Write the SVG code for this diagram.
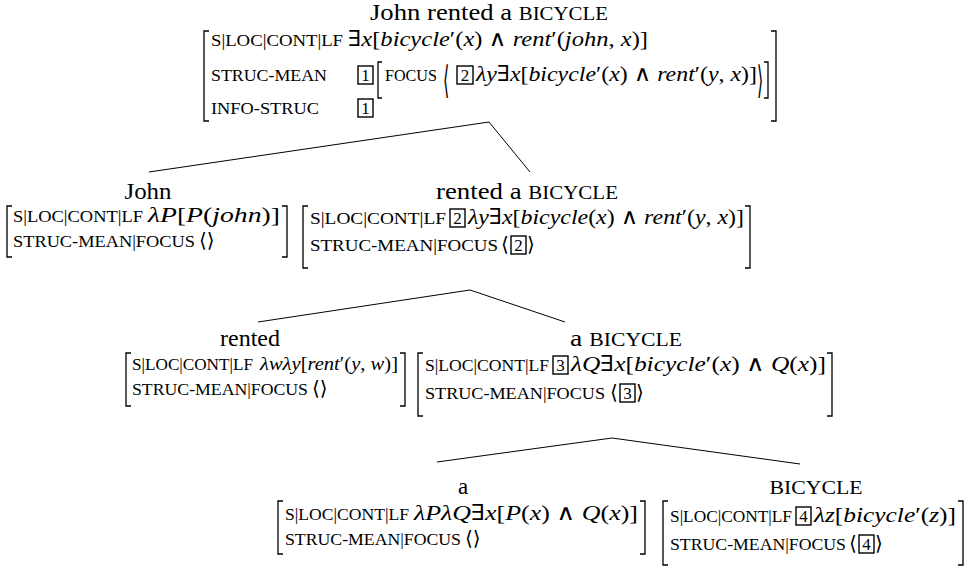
<svg xmlns="http://www.w3.org/2000/svg" width="970" height="568" viewBox="0 0 970 568">
<style>
text{font-family:"Liberation Serif","DejaVu Serif","Times New Roman",serif;fill:#000}
.t{font-size:23px;text-anchor:middle}
.tsc{font-size:18px}
.sc{font-size:16.5px}
.m{font-size:22px}
.i{font-style:italic}
.n{font-size:17px;text-anchor:middle}
.ang{font-family:"DejaVu Sans","Noto Sans",sans-serif;font-size:20px;font-weight:normal}
.br{fill:none;stroke:#000;stroke-width:1.3}
.bx{fill:none;stroke:#000;stroke-width:1.4}
.edge{stroke:#000;stroke-width:1;fill:none}
</style>
<g id="connectors">
<line class="edge" x1="489" y1="122" x2="149" y2="172"/>
<line class="edge" x1="489" y1="122" x2="530" y2="172"/>
<line class="edge" x1="470" y1="290" x2="258" y2="322"/>
<line class="edge" x1="470" y1="290" x2="565" y2="322"/>
<line class="edge" x1="612" y1="438" x2="437" y2="462"/>
<line class="edge" x1="612" y1="438" x2="800" y2="464"/>
</g>
<g id="node-root">
<text class="t" x="489" y="20" textLength="238" lengthAdjust="spacingAndGlyphs">John rented a <tspan class="tsc">BICYCLE</tspan></text>
<path class="br" d="M209,31 H204 V121 H209"/>
<path class="br" d="M771,31 H776 V121 H771"/>
<text class="sc" x="211" y="46" textLength="132" lengthAdjust="spacingAndGlyphs">S|LOC|CONT|LF</text>
<text class="m" x="348" y="46" textLength="300" lengthAdjust="spacingAndGlyphs">∃<tspan class="i">x</tspan>[<tspan class="i">bicycle</tspan>′(<tspan class="i">x</tspan>) ∧ <tspan class="i">rent</tspan>′(<tspan class="i">john</tspan>, <tspan class="i">x</tspan>)]</text>
<text class="sc" x="211" y="81" textLength="116" lengthAdjust="spacingAndGlyphs">STRUC-MEAN</text>
<rect class="bx" x="358" y="66" width="15" height="18"/>
<text class="n" x="365.5" y="81">1</text>
<path class="br" d="M382,62 H378 V98 H382"/>
<text class="sc" x="385" y="81" textLength="52" lengthAdjust="spacingAndGlyphs">FOCUS</text>
<text class="ang" transform="translate(443,93) scale(0.8,1.9)">⟨</text>
<rect class="bx" x="457" y="66" width="16" height="18"/>
<text class="n" x="465" y="81">2</text>
<text class="m" x="476" y="81" textLength="281" lengthAdjust="spacingAndGlyphs"><tspan class="i">λy</tspan>∃<tspan class="i">x</tspan>[<tspan class="i">bicycle</tspan>′(<tspan class="i">x</tspan>) ∧ <tspan class="i">rent</tspan>′(<tspan class="i">y</tspan>, <tspan class="i">x</tspan>)]</text>
<text class="ang" transform="translate(757,93) scale(0.8,1.9)">⟩</text>
<path class="br" d="M764,62 H768 V98 H764"/>
<text class="sc" x="211" y="114" textLength="108" lengthAdjust="spacingAndGlyphs">INFO-STRUC</text>
<rect class="bx" x="358" y="99" width="15" height="18"/>
<text class="n" x="365.5" y="114">1</text>
</g>
<g id="node-john">
<text class="t" x="148" y="199" textLength="47" lengthAdjust="spacingAndGlyphs">John</text>
<path class="br" d="M12,206 H7 V257 H12"/>
<path class="br" d="M282,206 H287 V257 H282"/>
<text class="sc" x="13" y="222" textLength="130" lengthAdjust="spacingAndGlyphs">S|LOC|CONT|LF</text>
<text class="m" x="148" y="222" textLength="132" lengthAdjust="spacingAndGlyphs"><tspan class="i">λP</tspan>[<tspan class="i">P</tspan>(<tspan class="i">john</tspan>)]</text>
<text class="sc" x="13" y="247" textLength="182" lengthAdjust="spacingAndGlyphs">STRUC-MEAN|FOCUS</text>
<text class="ang" x="199" y="247">⟨⟩</text>
</g>
<g id="node-rented-a-bicycle">
<text class="t" x="527" y="199" textLength="182" lengthAdjust="spacingAndGlyphs">rented a <tspan class="tsc">BICYCLE</tspan></text>
<path class="br" d="M308,206 H303 V268 H308"/>
<path class="br" d="M745,206 H750 V268 H745"/>
<text class="sc" x="310" y="224" textLength="136" lengthAdjust="spacingAndGlyphs">S|LOC|CONT|LF</text>
<rect class="bx" x="450" y="209" width="15" height="18"/>
<text class="n" x="457.5" y="224">2</text>
<text class="m" x="468" y="224" textLength="276" lengthAdjust="spacingAndGlyphs"><tspan class="i">λy</tspan>∃<tspan class="i">x</tspan>[<tspan class="i">bicycle</tspan>(<tspan class="i">x</tspan>) ∧ <tspan class="i">rent</tspan>′(<tspan class="i">y</tspan>, <tspan class="i">x</tspan>)]</text>
<text class="sc" x="310" y="251" textLength="188" lengthAdjust="spacingAndGlyphs">STRUC-MEAN|FOCUS</text>
<text class="ang" x="501" y="251">⟨</text>
<rect class="bx" x="511" y="236" width="15" height="18"/>
<text class="n" x="518.5" y="251">2</text>
<text class="ang" x="527" y="251">⟩</text>
</g>
<g id="node-rented">
<text class="t" x="250" y="346" textLength="60" lengthAdjust="spacingAndGlyphs">rented</text>
<path class="br" d="M131,353 H126 V406 H131"/>
<path class="br" d="M400,353 H405 V406 H400"/>
<text class="sc" x="132" y="370" textLength="121" lengthAdjust="spacingAndGlyphs">S|LOC|CONT|LF</text>
<text class="m" x="260" y="370" textLength="138" lengthAdjust="spacingAndGlyphs" style="font-size:19px"><tspan class="i">λwλy</tspan>[<tspan class="i">rent</tspan>′(<tspan class="i">y</tspan>, <tspan class="i">w</tspan>)]</text>
<text class="sc" x="132" y="395" textLength="176" lengthAdjust="spacingAndGlyphs">STRUC-MEAN|FOCUS</text>
<text class="ang" x="312" y="395">⟨⟩</text>
</g>
<g id="node-a-bicycle">
<text class="t" x="626" y="346" textLength="112" lengthAdjust="spacingAndGlyphs">a <tspan class="tsc">BICYCLE</tspan></text>
<path class="br" d="M423,353 H418 V416 H423"/>
<path class="br" d="M827,353 H832 V416 H827"/>
<text class="sc" x="425" y="371" textLength="124" lengthAdjust="spacingAndGlyphs">S|LOC|CONT|LF</text>
<rect class="bx" x="553" y="356" width="15" height="18"/>
<text class="n" x="560.5" y="371">3</text>
<text class="m" x="571" y="371" textLength="255" lengthAdjust="spacingAndGlyphs"><tspan class="i">λQ</tspan>∃<tspan class="i">x</tspan>[<tspan class="i">bicycle</tspan>′(<tspan class="i">x</tspan>) ∧ <tspan class="i">Q</tspan>(<tspan class="i">x</tspan>)]</text>
<text class="sc" x="425" y="399" textLength="180" lengthAdjust="spacingAndGlyphs">STRUC-MEAN|FOCUS</text>
<text class="ang" x="610" y="399">⟨</text>
<rect class="bx" x="620" y="384" width="15" height="18"/>
<text class="n" x="627.5" y="399">3</text>
<text class="ang" x="636" y="399">⟩</text>
</g>
<g id="node-a">
<text class="t" x="463" y="494">a</text>
<path class="br" d="M283,501 H278 V554 H283"/>
<path class="br" d="M640,501 H645 V554 H640"/>
<text class="sc" x="285" y="520" textLength="124" lengthAdjust="spacingAndGlyphs">S|LOC|CONT|LF</text>
<text class="m" x="414" y="520" textLength="224" lengthAdjust="spacingAndGlyphs"><tspan class="i">λPλQ</tspan>∃<tspan class="i">x</tspan>[<tspan class="i">P</tspan>(<tspan class="i">x</tspan>) ∧ <tspan class="i">Q</tspan>(<tspan class="i">x</tspan>)]</text>
<text class="sc" x="285" y="545" textLength="176" lengthAdjust="spacingAndGlyphs">STRUC-MEAN|FOCUS</text>
<text class="ang" x="465" y="545">⟨⟩</text>
</g>
<g id="node-bicycle">
<text class="t" x="816" y="494" textLength="93" lengthAdjust="spacingAndGlyphs" style="font-size:19px">BICYCLE</text>
<path class="br" d="M668,501 H663 V565 H668"/>
<path class="br" d="M958,501 H963 V565 H958"/>
<text class="sc" x="670" y="522" textLength="122" lengthAdjust="spacingAndGlyphs">S|LOC|CONT|LF</text>
<rect class="bx" x="796" y="507" width="15" height="18"/>
<text class="n" x="803.5" y="522">4</text>
<text class="m" x="814" y="522" textLength="142" lengthAdjust="spacingAndGlyphs"><tspan class="i">λz</tspan>[<tspan class="i">bicycle</tspan>′(<tspan class="i">z</tspan>)]</text>
<text class="sc" x="670" y="550" textLength="176" lengthAdjust="spacingAndGlyphs">STRUC-MEAN|FOCUS</text>
<text class="ang" x="849" y="550">⟨</text>
<rect class="bx" x="859" y="535" width="15" height="18"/>
<text class="n" x="866.5" y="550">4</text>
<text class="ang" x="875" y="550">⟩</text>
</g>
</svg>
